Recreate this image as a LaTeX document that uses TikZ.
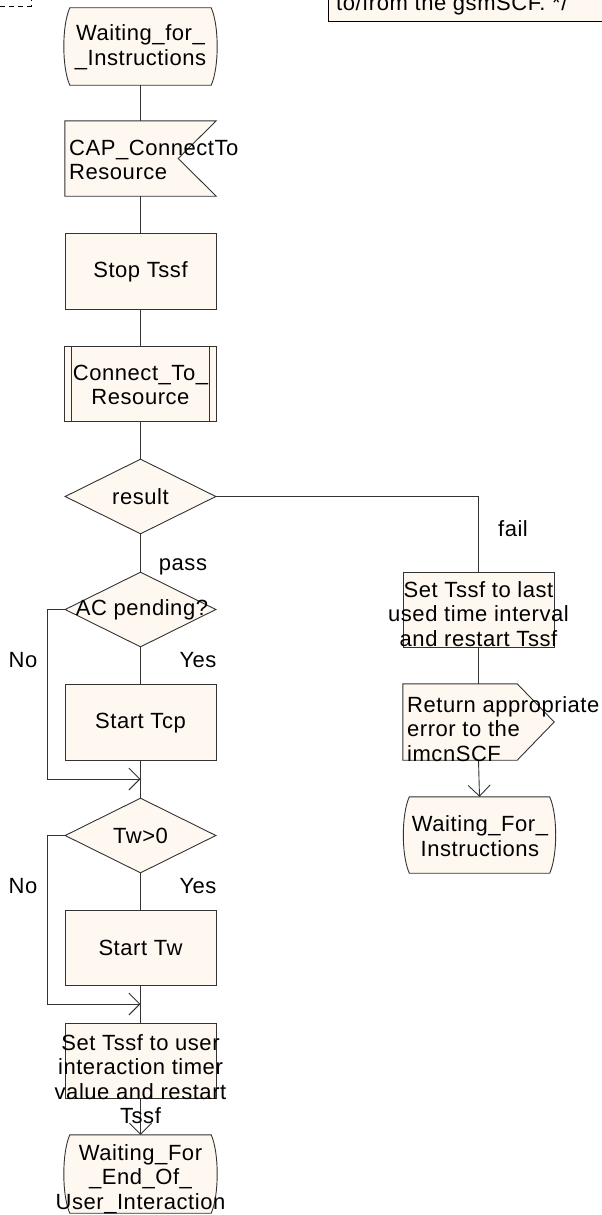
\documentclass[tikz,border=0pt]{standalone}
\usepackage{fontspec}
\setmainfont{Liberation Sans}[LetterSpace=2.5]
\usetikzlibrary{arrows.meta,shapes.geometric}
\definecolor{cream}{RGB}{255,248,240}
\definecolor{ln}{RGB}{51,51,51}
\tikzset{
 outl/.style={draw=ln, fill=cream, line width=0.9pt},
 holder/.style={rectangle, inner sep=0pt, minimum width=151pt, minimum height=75pt},
 taskbox/.style={holder, draw=ln, fill=cream, line width=0.9pt},
 decision/.style={diamond, inner sep=0pt, minimum width=151pt, minimum height=75pt, draw=ln, fill=cream, line width=0.9pt},
 txt/.style={inner sep=0pt, font=\fontsize{22pt}{24.5pt}\selectfont, align=center},
 txtl/.style={txt, align=left},
 conn/.style={draw=ln, line width=0.9pt},
 arr/.style={conn, -{Straight Barb[length=11pt,width=22pt]}},
}
\newcommand\drawstate[1]{%
 \draw[outl] ([xshift=6pt]#1.north west) -- ([xshift=-6pt]#1.north east)
   .. controls ([xshift=2pt,yshift=-18pt]#1.north east) and ([xshift=2pt,yshift=18pt]#1.south east) .. ([xshift=-6pt]#1.south east)
   -- ([xshift=6pt]#1.south west)
   .. controls ([xshift=-2pt,yshift=18pt]#1.south west) and ([xshift=-2pt,yshift=-18pt]#1.north west) .. cycle;}
\begin{document}
\begin{tikzpicture}[x=1pt,y=-1pt]
\useasboundingbox (0,0) rectangle (602,1215);
\clip (0,0) rectangle (602,1215);
\fill[white] (0,0) rectangle (602,1215);

% top-left dashed fragment
\draw[line width=0.7pt, dash pattern=on 5pt off 4pt] (0,6) -- (31,6) -- (31,-3);

% comment box (top right), running off the top and right edges
\node[draw=black, fill=cream, line width=0.9pt, inner sep=0pt, minimum width=290pt, minimum height=60pt, anchor=south west] (cmt) at (328,22) {};
\node[txt, anchor=base west] (cmtx) at (336,11) {to/from the gsmSCF. */};

% shape holders
\node[holder, minimum width=153pt, minimum height=77pt] (wfi) at (140.5,46.5) {};
\node[holder] (cap) at (140.5,158.5) {};
\node[taskbox, minimum height=76pt] (stop) at (140.5,271) {};
\node[holder, minimum height=74pt] (ctr) at (140.5,384) {};
\node[decision] (result) at (140.5,496.5) {};
\node[decision] (acp) at (140.5,609.5) {};
\node[taskbox, minimum height=76pt] (tcp) at (140.5,722) {};
\node[decision] (tw0) at (140.5,835.5) {};
\node[taskbox] (stw) at (140.5,947.5) {};
\node[taskbox] (settu) at (140.5,1060.5) {};
\node[holder, minimum width=153pt, minimum height=78pt] (wfe) at (140.5,1174) {};
\node[taskbox] (setlast) at (478.5,609.5) {};
\node[holder, minimum height=76pt] (ret) at (478.5,722) {};
\node[holder, minimum width=152pt, minimum height=76pt] (wfi2) at (479.5,835) {};

% special outlines
\drawstate{wfi}
\drawstate{wfe}
\drawstate{wfi2}
\draw[outl] (cap.north west) -- (cap.north east) -- ([xshift=-38pt]cap.east) -- (cap.south east) -- (cap.south west) -- cycle;
\draw[outl] (ctr.north west) rectangle (ctr.south east);
\draw[conn] ([xshift=7pt]ctr.north west) -- ([xshift=7pt]ctr.south west);
\draw[conn] ([xshift=-7pt]ctr.north east) -- ([xshift=-7pt]ctr.south east);
\draw[outl] (ret.north west) -- ([xshift=-37pt]ret.north east) -- (ret.east) -- ([xshift=-37pt]ret.south east) -- (ret.south west) -- cycle;

% connectors
\coordinate (l1) at (47,609.5);
\coordinate (m1) at (140.5,779);
\coordinate (l2) at (47,835.5);
\coordinate (m2) at (140.5,1004);
\draw[conn] (wfi.south) -- (cap.north);
\draw[conn] (cap.south) -- (stop.north);
\draw[conn] (stop.south) -- (ctr.north);
\draw[conn] (ctr.south) -- (result.north);
\draw[conn] (result.south) -- (acp.north);
\draw[conn] (result.east) -| (setlast.north);
\draw[conn] (acp.south) -- (tcp.north);
\draw[arr] (acp.west) -- (l1) |- (m1);
\draw[conn] (tcp.south) -- (tw0.north);
\draw[conn] (tw0.south) -- (stw.north);
\draw[arr] (tw0.west) -- (l2) |- (m2);
\draw[conn] (stw.south) -- (settu.north);
\draw[arr] (settu.south) -- (wfe.north);
\draw[conn] (setlast.south) -- (ret.north);
\draw[arr] (ret.south) -- (wfi2.north);

% texts
\node[txt] (t-wfi) at (140.5,47) {Waiting\_for\_\\\_Instructions};
\node[txtl, anchor=west] (t-cap) at (69,160) {CAP\_ConnectTo\\Resource};
\node[txt] (t-stop) at (140.5,272) {Stop Tssf};
\node[txt] (t-ctr) at (140.5,385) {Connect\_To\_\\Resource};
\node[txt] (t-result) at (140.5,497) {result};
\node[txt] (t-acp) at (142,610) {AC pending?};
\node[txt] (t-tcp) at (140.5,723) {Start Tcp};
\node[txt] (t-tw0) at (140.5,836) {Tw>0};
\node[txt] (t-stw) at (140.5,948) {Start Tw};
\node[txt] (t-settu) at (140.5,1079) {Set Tssf to user\\interaction timer\\value and restart\\Tssf};
\node[txt] (t-wfe) at (140.5,1179) {Waiting\_For\\\_End\_Of\_\\User\_Interaction};
\node[txt] (t-setlast) at (478.5,614) {Set Tssf to last\\used time interval\\and restart Tssf};
\node[txtl, anchor=west] (t-ret) at (407,729) {Return appropriate\\error to the\\imcnSCF};
\node[txt] (t-wfi2) at (480,836) {Waiting\_For\_\\Instructions};

% branch labels
\node[txt] (lpass) at (183,567) {pass};
\node[txt] (lfail) at (513,529) {fail};
\node[txt] (lno1) at (23,660) {No};
\node[txt] (lyes1) at (198,660) {Yes};
\node[txt] (lno2) at (23,886) {No};
\node[txt] (lyes2) at (198,886) {Yes};
\end{tikzpicture}
\end{document}
